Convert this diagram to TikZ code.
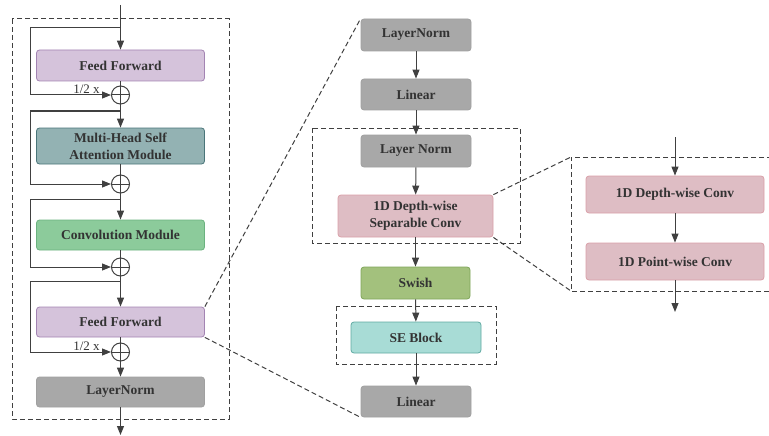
\documentclass[tikz,border=0pt]{standalone}
\usepackage{fontspec}
\setmainfont{Liberation Serif}
\usetikzlibrary{arrows.meta}
\definecolor{txt}{HTML}{333333}
\definecolor{ln}{HTML}{404040}
\definecolor{ffF}{HTML}{D5C3DB}\definecolor{ffD}{HTML}{A384B3}
\definecolor{mhF}{HTML}{93B2B3}\definecolor{mhD}{HTML}{4A7579}
\definecolor{cvF}{HTML}{8CCB9B}\definecolor{cvD}{HTML}{6BB27F}
\definecolor{gyF}{HTML}{A8A8A8}\definecolor{gyD}{HTML}{A0A0A0}
\definecolor{pkF}{HTML}{DEBDC4}\definecolor{pkD}{HTML}{D9A0A8}
\definecolor{swF}{HTML}{A3C17D}\definecolor{swD}{HTML}{7FA55A}
\definecolor{seF}{HTML}{A8DCD6}\definecolor{seD}{HTML}{5FA9A2}
\tikzset{
  blk/.style={rectangle, rounded corners=3pt, draw, line width=0.8pt, inner sep=0pt,
    align=center, text=txt, font=\fontsize{13.5}{17}\selectfont\bfseries},
  arr/.style={draw=ln, line width=1pt, -{Triangle[length=9pt,width=7pt]}},
  ln/.style={draw=ln, line width=1pt},
  dbox/.style={draw=ln, line width=1pt, dash pattern=on 5pt off 3pt},
  sumc/.style={circle, draw=ln, line width=1pt, minimum size=18pt, inner sep=0pt},
}
\begin{document}
\begin{tikzpicture}[x=1pt,y=-1pt]
\useasboundingbox (0,0) rectangle (769,436);
\clip (0,0) rectangle (769,436);
% ---------- left panel ----------
\draw[dbox] (12,19) rectangle (229,419);
\node[blk, fill=ffF, draw=ffD, minimum width=168pt, minimum height=31pt] (ff1) at (120.5,65.5) {Feed Forward};
\node[sumc] (c1) at (120.5,95) {};
\node[blk, fill=mhF, draw=mhD, minimum width=168pt, minimum height=36pt] (mh) at (120.5,146) {Multi-Head Self\\Attention Module};
\node[sumc] (c2) at (120.5,184) {};
\node[blk, fill=cvF, draw=cvD, minimum width=168pt, minimum height=30pt] (cv) at (120.5,235) {Convolution Module};
\node[sumc] (c3) at (120.5,267) {};
\node[blk, fill=ffF, draw=ffD, minimum width=168pt, minimum height=30pt] (ff2) at (120.5,322) {Feed Forward};
\node[sumc] (c4) at (120.5,352) {};
\node[blk, fill=gyF, draw=gyD, minimum width=168pt, minimum height=30pt] (lnl) at (120.5,392) {LayerNorm};
\foreach \c in {c1,c2,c3,c4}{\draw[ln] (\c.north)--(\c.south) (\c.west)--(\c.east);}
\coordinate (in) at (120.5,5);
\coordinate (out) at (120.5,435);
\coordinate (s1) at (120.5,28);
\coordinate (s2) at (120.5,111);
\coordinate (s3) at (120.5,199);
\coordinate (s4) at (120.5,281);
\draw[arr] (in) -- (ff1.north);
\draw[ln] (ff1.south) -- (c1.north);
\draw[arr] (c1.south) -- (mh.north);
\draw[ln] (mh.south) -- (c2.north);
\draw[arr] (c2.south) -- (cv.north);
\draw[ln] (cv.south) -- (c3.north);
\draw[arr] (c3.south) -- (ff2.north);
\draw[ln] (ff2.south) -- (c4.north);
\draw[arr] (c4.south) -- (lnl.north);
\draw[arr] (lnl.south) -- (out);
\draw[arr] (s1) -- (30,28) |- (c1.west);
\draw[arr] (s2) -- (30,111) |- (c2.west);
\draw[arr] (s3) -- (30,199) |- (c3.west);
\draw[arr] (s4) -- (30,281) |- (c4.west);
\node[text=txt, font=\fontsize{13}{15}\selectfont, anchor=base] (h1) at (86.5,93) {1/2 x};
\node[text=txt, font=\fontsize{13}{15}\selectfont, anchor=base] (h2) at (86.5,350) {1/2 x};
% ---------- middle panel ----------
\node[blk, fill=gyF, draw=gyD, minimum width=110pt, minimum height=32pt] (m1) at (416,35) {LayerNorm};
\node[blk, fill=gyF, draw=gyD, minimum width=110pt, minimum height=31pt] (m2) at (416,94.5) {Linear};
\node[blk, fill=gyF, draw=gyD, minimum width=110pt, minimum height=32pt] (m3) at (416,151) {Layer Norm};
\node[blk, fill=pkF, draw=pkD, minimum width=155pt, minimum height=42pt] (m4) at (415.5,216) {1D Depth-wise\\Separable Conv};
\node[blk, fill=swF, draw=swD, minimum width=109pt, minimum height=32pt] (m5) at (415.5,283) {Swish};
\node[blk, fill=seF, draw=seD, minimum width=130pt, minimum height=31pt] (m6) at (416,337.5) {SE Block};
\node[blk, fill=gyF, draw=gyD, minimum width=110pt, minimum height=31pt] (m7) at (416,401.5) {Linear};
\draw[dbox] (312,128) rectangle (520,243);
\draw[dbox] (336,306) rectangle (496,364);
\draw[arr] (m1) -- (m2);
\draw[arr] (m2) -- (m3);
\draw[arr] (m3) -- (m4);
\draw[arr] (m4) -- (m5);
\draw[arr] (m5) -- (m6);
\draw[arr] (m6) -- (m7);
\draw[dbox] (ff2.north east) -- (m1.north west);
\draw[dbox] (ff2.south east) -- (m7.south west);
% ---------- right panel ----------
\node[blk, fill=pkF, draw=pkD, minimum width=178pt, minimum height=37pt] (r1) at (675,194.5) {1D Depth-wise Conv};
\node[blk, fill=pkF, draw=pkD, minimum width=178pt, minimum height=37pt] (r2) at (675,261.5) {1D Point-wise Conv};
\coordinate (rin) at (675,137);
\coordinate (rout) at (675,312);
\draw[arr] (rin) -- (r1);
\draw[arr] (r1) -- (r2);
\draw[arr] (r2) -- (rout);
\coordinate (rb1) at (571,157);
\coordinate (rb2) at (571,291);
\draw[dbox] (780,157) -- (rb1) -- (rb2) -- (780,291);
\draw[dbox] (m4.north east) -- (rb1);
\draw[dbox] (m4.south east) -- (rb2);
\end{tikzpicture}
\end{document}
